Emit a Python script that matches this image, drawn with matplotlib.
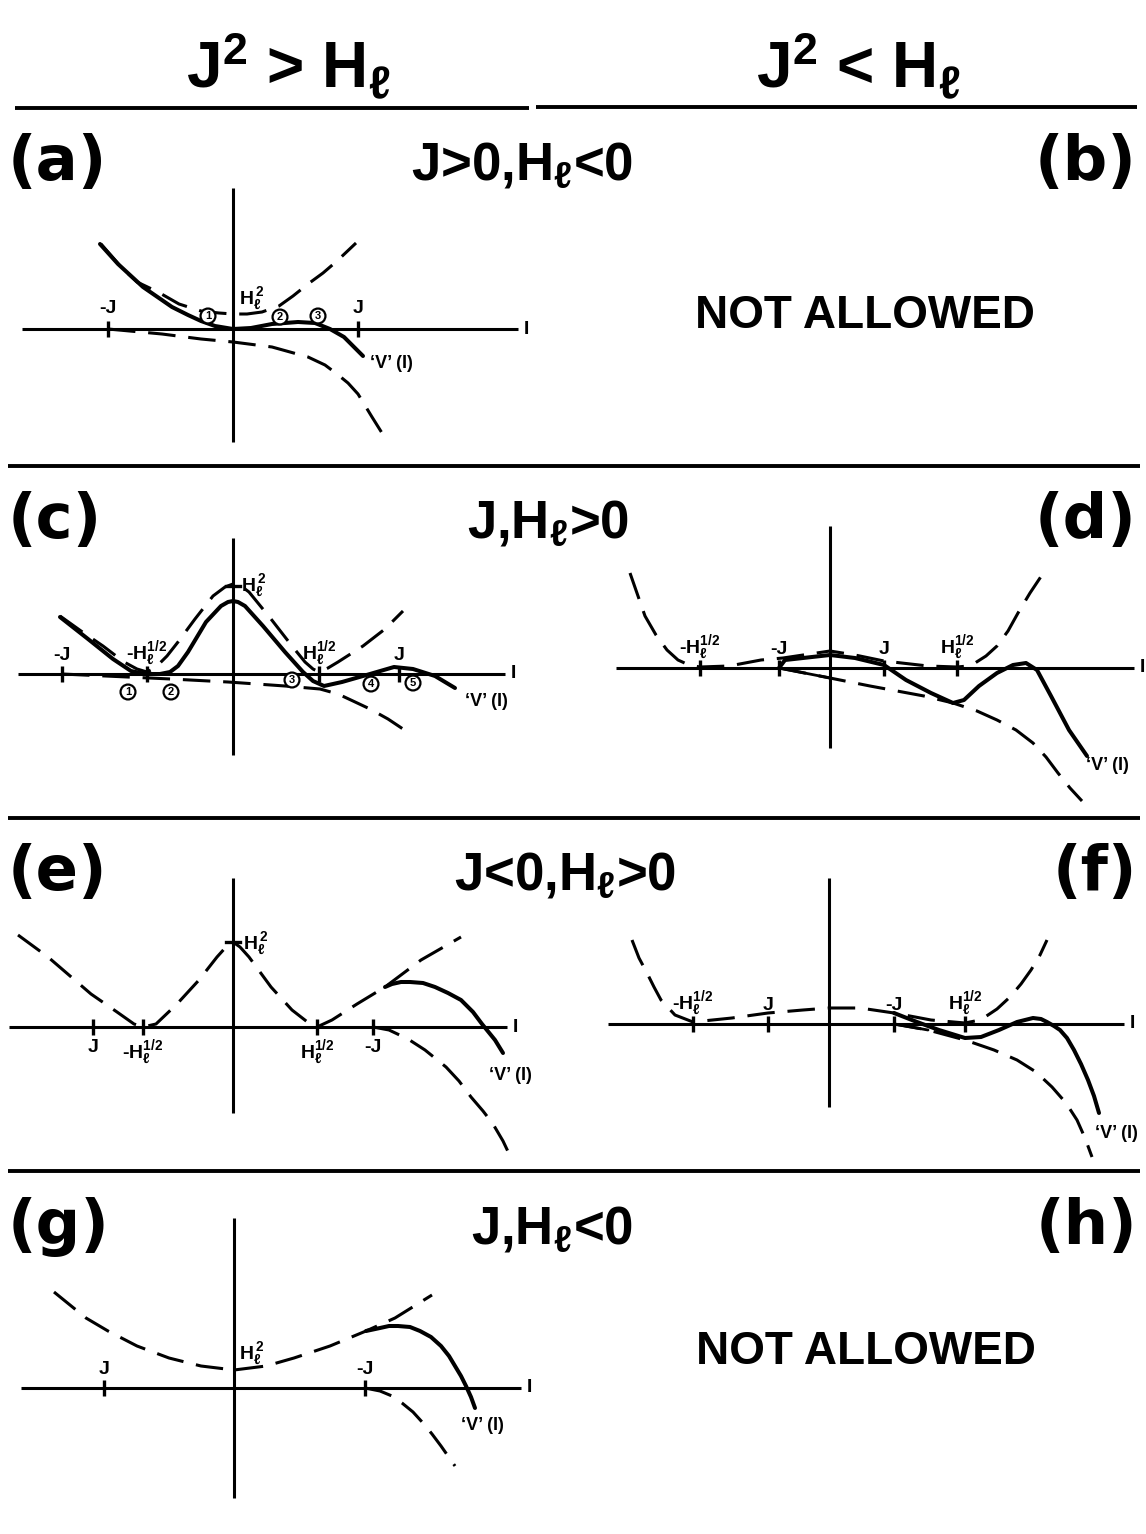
import matplotlib
matplotlib.use("Agg")
import matplotlib.pyplot as plt

plt.rcParams['mathtext.fontset'] = 'custom'
plt.rcParams['mathtext.rm'] = 'Liberation Sans:bold'
plt.rcParams['mathtext.it'] = 'Liberation Sans:italic:bold'
plt.rcParams['mathtext.bf'] = 'Liberation Sans:bold'
plt.rcParams['mathtext.sf'] = 'Liberation Sans:bold'
plt.rcParams['mathtext.default'] = 'rm'

# ---------------- data (local pixel units: I to the right, V up) ----------
# panel (a)  J>0, H_l<0
A_TICKS = [-125, 125]
A_TICK_LABELS = ['-J', 'J']
A_UPPER_I = [-132, -112, -96, -75, -54, -32, -14, 0, 14, 29, 46, 60, 75, 90, 104, 123]
A_UPPER_V = [85, 62, 47, 37, 25, 18, 16, 15, 15, 17, 23, 33, 45, 56, 68, 86]
A_VPRIME_I = [-133, -115, -90, -61, -45, -32, -18, 0, 18, 39, 65, 82, 97, 111, 130]
A_VPRIME_V = [85, 65, 42, 22, 14, 8, 3, 0, 1, 5, 7, 6, 0, -8, -27]
A_LOWER_I = [-125, -71, -32, 0, 39, 75, 92, 104, 115, 125, 139, 154]
A_LOWER_V = [0, -5, -10, -13, -18, -28, -36, -45, -54, -65, -88, -112]
A_ROOTS_I = [-25, 47, 85]
A_ROOTS_V = [13, 12, 13]

# panel (c)  J, H_l > 0, J^2 > H_l
C_TICKS = [-171, -86, 86, 166]
C_TICK_LABELS = ['-J', r'-H$_\ell^{1/2}$', r'H$_\ell^{1/2}$', 'J']
C_HL2 = 88
C_UPPER_I = [-173, -152, -130, -109, -96, -86, -78, -66, -55, -38, -20, -8, 0, 8, 16, 38, 59, 72, 80, 86, 95, 105, 130, 152, 170]
C_UPPER_V = [58, 43, 28, 12, 5, 2, 6, 18, 32, 55, 78, 87, 90, 88, 82, 55, 28, 12, 5, 2, 6, 12, 28, 45, 63]
C_VPRIME_I = [-173, -145, -120, -102, -88, -73, -63, -55, -45, -27, -12, -5, 0, 5, 12, 30, 52, 70, 80, 91, 109, 137, 161, 180, 202, 222]
C_VPRIME_V = [57, 35, 15, 3, 0, 0, 2, 8, 22, 52, 68, 72, 73, 72, 68, 48, 22, 2, -7, -12, -8, 0, 7, 5, -2, -14]
C_LOWER_I = [-171, -62, -5, 52, 87, 105, 120, 137, 155, 170]
C_LOWER_V = [0, -5, -8, -12, -15, -20, -27, -35, -45, -55]
C_ROOTS_I = [-105, -62, 59, 138, 180]
C_ROOTS_V = [-18, -18, -6, -10, -9]

# panel (d)  J, H_l > 0, J^2 < H_l
D_TICKS = [-130, -51, 54, 127]
D_TICK_LABELS = [r'-H$_\ell^{1/2}$', '-J', 'J', r'H$_\ell^{1/2}$']
D_UPPER_I = [-200, -192, -185, -174, -163, -152, -141, -130, -101, -69, -47, 0, 25, 54, 98, 127, 138, 145, 156, 167, 178, 188, 200, 214]
D_UPPER_V = [95, 72, 52, 33, 18, 8, 3, 1, 2, 8, 10, 17, 13, 7, 2, 1, 2, 5, 12, 22, 37, 55, 75, 96]
D_VPRIME_I = [-51, -45, 0, 25, 54, 76, 101, 123, 134, 149, 167, 183, 196, 207, 221, 239, 257]
D_VPRIME_V = [0, 8, 13, 10, 3, -12, -25, -35, -32, -18, -5, 3, 5, -2, -28, -62, -88]
D_LOWER_I = [-51, 0, 40, 94, 123, 147, 167, 186, 203, 216, 228, 240, 252]
D_LOWER_V = [0, -10, -18, -28, -35, -43, -52, -62, -75, -89, -105, -120, -133]

# panel (e)  J<0, H_l>0, J^2 > H_l
E_TICKS = [-140, -90, 84, 140]
E_TICK_LABELS = ['J', r'-H$_\ell^{1/2}$', r'H$_\ell^{1/2}$', '-J']
E_HL2 = 85
E_UPPER_I = [-215, -185, -142, -116, -99, -90, -77, -56, -34, -16, -7, 0, 7, 16, 38, 59, 77, 84, 99, 124, 152, 188, 228]
E_UPPER_V = [92, 70, 33, 15, 3, 0, 3, 23, 47, 70, 80, 85, 80, 70, 40, 17, 3, 0, 7, 23, 40, 67, 90]
E_VPRIME_I = [152, 159, 168, 177, 190, 202, 215, 228, 240, 249, 262, 270]
E_VPRIME_V = [40, 43, 45, 45, 44, 40, 34, 27, 15, 3, -13, -26]
E_LOWER_I = [140, 156, 175, 192, 213, 226, 238, 250, 260, 270, 279]
E_LOWER_V = [0, -3, -12, -23, -40, -54, -70, -84, -97, -114, -133]

# panel (f)  J<0, H_l>0, J^2 < H_l
F_TICKS = [-136, -61, 65, 136]
F_TICK_LABELS = [r'-H$_\ell^{1/2}$', 'J', '-J', r'H$_\ell^{1/2}$']
F_UPPER_I = [-197, -190, -182, -175, -168, -154, -136, -97, -61, -26, 0, 31, 65, 102, 136, 146, 156, 168, 181, 192, 202, 211, 218]
F_UPPER_V = [84, 66, 51, 37, 24, 9, 2, 6, 11, 14, 16, 16, 11, 4, 1, 3, 7, 15, 27, 40, 54, 69, 84]
F_VPRIME_I = [65, 88, 110, 136, 152, 170, 188, 204, 212, 218, 225, 231, 238, 245, 252, 259, 265, 270]
F_VPRIME_V = [11, 2, -6, -14, -13, -6, 2, 6, 5, 2, -2, -6, -14, -26, -40, -56, -72, -89]
F_LOWER_I = [65, 99, 136, 165, 188, 207, 223, 237, 248, 256, 263]
F_LOWER_V = [0, -6, -16, -26, -36, -48, -63, -79, -96, -114, -133]

# panel (g)  J, H_l < 0
G_TICKS = [-130, 131]
G_TICK_LABELS = ['J', '-J']
G_UPPER_I = [-180, -148, -126, -97, -65, -33, 0, 32, 60, 96, 132, 161, 198]
G_UPPER_V = [96, 70, 57, 42, 30, 22, 18, 22, 30, 42, 57, 70, 93]
G_VPRIME_I = [132, 146, 155, 164, 176, 186, 197, 207, 215, 221, 227, 232, 237, 241]
G_VPRIME_V = [57, 60, 62, 62, 61, 57, 51, 42, 32, 22, 12, 2, -9, -20]
G_LOWER_I = [131, 146, 158, 168, 179, 189, 198, 207, 214, 221]
G_LOWER_V = [0, -3, -8, -15, -24, -35, -46, -58, -68, -78]

COLUMN_TITLES = [r'J$^2$ > H$_\ell$', r'J$^2$ < H$_\ell$']
ROW_CONDITIONS = [r'J>0,H$_\ell$<0', r'J,H$_\ell$>0', r'J<0,H$_\ell$>0', r'J,H$_\ell$<0']
LEFT_LABELS = ['(a)', '(c)', '(e)', '(g)']
RIGHT_LABELS = ['(b)', '(d)', '(f)', '(h)']
NOT_ALLOWED = 'NOT ALLOWED'

# ---------------- figure ----------------
W, H = 1146, 1534
fig = plt.figure(figsize=(W / 100, H / 100), dpi=100)
fig.patch.set_facecolor('white')
bg = fig.add_axes([0, 0, 1, 1])
bg.set_xlim(0, W)
bg.set_ylim(H, 0)
bg.axis('off')

K = 'black'
AX_LW = 2.2
SOLID_LW = 2.9
DASH_LW = 2.2
DASH = (9, 4.2)
LAB = dict(family='Liberation Sans', weight='bold', color=K)

# header and separators
bg.text(288, 88, COLUMN_TITLES[0], fontsize=46, ha='center', va='baseline', **LAB)
bg.text(858, 88, COLUMN_TITLES[1], fontsize=46, ha='center', va='baseline', **LAB)
bg.plot([15, 529], [108, 108], color=K, lw=2.8, solid_capstyle='butt')
bg.plot([536, 1137], [107, 107], color=K, lw=2.8, solid_capstyle='butt')
for ys in [466, 818, 1171]:
    bg.plot([8, 1140], [ys, ys], color=K, lw=2.8, solid_capstyle='butt')

row_base = [180, 538, 890, 1244]
cond_x = [522, 548, 565, 552]
for i in range(4):
    bg.text(8, row_base[i], LEFT_LABELS[i], fontsize=45, family='DejaVu Sans', weight='bold',
            ha='left', va='baseline')
    bg.text(1137, row_base[i], RIGHT_LABELS[i], fontsize=45, family='DejaVu Sans', weight='bold',
            ha='right', va='baseline')
    bg.text(cond_x[i], row_base[i], ROW_CONDITIONS[i], fontsize=38, ha='center', va='baseline', **LAB)

bg.text(865, 316, NOT_ALLOWED, fontsize=33, ha='center', va='center', **LAB)
bg.text(866, 1352, NOT_ALLOWED, fontsize=33, ha='center', va='center', **LAB)


def panel(ox, oy, hx, vy):
    x0, x1 = hx[0] - 30, hx[1] + 80
    y0, y1 = min(vy[0], -160) - 10, max(vy[1], 150) + 10
    ax = fig.add_axes([(ox + x0) / W, (H - oy + y0) / H, (x1 - x0) / W, (y1 - y0) / H])
    ax.set_xlim(x0, x1)
    ax.set_ylim(y0, y1)
    ax.axis('off')
    ax.plot(hx, [0, 0], color=K, lw=AX_LW, solid_capstyle='butt')
    ax.plot([0, 0], vy, color=K, lw=AX_LW, solid_capstyle='butt')
    ax.text(hx[1] + 6, 0, 'I', fontsize=14, ha='left', va='center', **LAB)
    return ax


def ticks(ax, pos, labels, above=True, dy=12, fs=14):
    for p, s in zip(pos, labels):
        ax.plot([p, p], [-8, 8], color=K, lw=2.4, solid_capstyle='butt')
        if above:
            ax.text(p, dy, s, fontsize=fs, ha='center', va='baseline', **LAB)
        else:
            ax.text(p, -dy, s, fontsize=fs, ha='center', va='top', **LAB)


def dashed(ax, x, v):
    ax.plot(x, v, color=K, lw=DASH_LW, dashes=DASH, dash_capstyle='butt',
            dash_joinstyle='round', clip_on=False)


def solid(ax, x, v, lw=SOLID_LW):
    ax.plot(x, v, color=K, lw=lw, solid_joinstyle='round', solid_capstyle='round', clip_on=False)


def vlabel(ax, x, v):
    ax.text(x, v, '\u2018V\u2019 (I)', fontsize=13, ha='left', va='center', **LAB)


def roots(ax, xs, vs):
    for n, (x, v) in enumerate(zip(xs, vs), start=1):
        ax.text(x, v, str(n), fontsize=8, ha='center', va='center', **LAB,
                bbox=dict(boxstyle='circle,pad=0.22', fc='white', ec=K, lw=1.6))


# (a)
ax = panel(233, 329, (-211, 285), (-113, 141))
ticks(ax, A_TICKS, A_TICK_LABELS, dy=16)
dashed(ax, A_UPPER_I, A_UPPER_V)
dashed(ax, A_LOWER_I, A_LOWER_V)
solid(ax, A_VPRIME_I, A_VPRIME_V)
roots(ax, A_ROOTS_I, A_ROOTS_V)
ax.text(6, 24, r'H$_\ell^{\,2}$', fontsize=14, ha='left', va='baseline', **LAB)
vlabel(ax, 137, -34)

# (c)
ax = panel(233, 674, (-215, 272), (-81, 136))
ticks(ax, C_TICKS, C_TICK_LABELS, dy=14)
ax.plot([-7, 7], [C_HL2, C_HL2], color=K, lw=2.4)
dashed(ax, C_UPPER_I, C_UPPER_V)
dashed(ax, C_LOWER_I, C_LOWER_V)
solid(ax, C_VPRIME_I, C_VPRIME_V)
roots(ax, C_ROOTS_I, C_ROOTS_V)
ax.text(8, C_HL2 - 6, r'H$_\ell^{\,2}$', fontsize=14, ha='left', va='baseline', **LAB)
vlabel(ax, 232, -28)

# (d)
ax = panel(830, 668, (-214, 304), (-80, 142))
ticks(ax, D_TICKS, D_TICK_LABELS, dy=14)
dashed(ax, D_UPPER_I, D_UPPER_V)
dashed(ax, D_LOWER_I, D_LOWER_V)
solid(ax, D_LOWER_I[:2], D_LOWER_V[:2], lw=2.0)
solid(ax, D_VPRIME_I, D_VPRIME_V)
vlabel(ax, 256, -97)

# (e)
ax = panel(233, 1027, (-224, 274), (-86, 149))
ticks(ax, E_TICKS, E_TICK_LABELS, above=False, dy=12)
ax.plot([-7, 7], [E_HL2, E_HL2], color=K, lw=2.4)
dashed(ax, E_UPPER_I, E_UPPER_V)
dashed(ax, E_LOWER_I, E_LOWER_V)
solid(ax, E_VPRIME_I, E_VPRIME_V)
ax.text(10, E_HL2 - 8, r'H$_\ell^{\,2}$', fontsize=14, ha='left', va='baseline', **LAB)
vlabel(ax, 256, -48)

# (f)
ax = panel(829, 1024, (-221, 295), (-83, 146))
ticks(ax, F_TICKS, F_TICK_LABELS, dy=14)
dashed(ax, F_UPPER_I, F_UPPER_V)
dashed(ax, F_LOWER_I, F_LOWER_V)
solid(ax, F_LOWER_I[:2], F_LOWER_V[:2], lw=2.0)
solid(ax, F_VPRIME_I, F_VPRIME_V)
vlabel(ax, 266, -109)

# (g)
ax = panel(234, 1388, (-213, 287), (-110, 170))
ticks(ax, G_TICKS, G_TICK_LABELS, dy=14)
dashed(ax, G_UPPER_I, G_UPPER_V)
dashed(ax, G_LOWER_I, G_LOWER_V)
solid(ax, G_VPRIME_I, G_VPRIME_V)
ax.text(5, 28, r'H$_\ell^{\,2}$', fontsize=14, ha='left', va='baseline', **LAB)
vlabel(ax, 227, -38)

fig.savefig('out.png', dpi=100, facecolor='white')
